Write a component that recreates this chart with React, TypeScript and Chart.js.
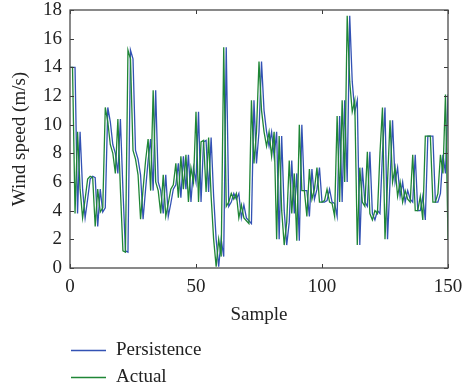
import React, { useEffect, useRef } from "react";
import { Chart, registerables } from "chart.js";

Chart.register(...registerables);

// Measured wind speed (m/s) per sample
const actual: number[] = [
  14.0, 14.0, 3.8, 9.5, 5.5, 3.5, 4.8, 6.2, 6.4, 6.3,
  2.9, 5.5, 3.9, 4.2, 11.2, 10.2, 8.6, 8.0, 6.6, 10.4,
  5.5, 1.2, 1.1, 15.2, 14.6, 8.2, 7.6, 6.5, 3.4, 5.5,
  7.5, 9.0, 5.4, 12.4, 6.0, 5.4, 3.8, 6.5, 3.6, 4.5,
  5.5, 5.8, 7.3, 4.9, 7.8, 5.5, 7.9, 4.6, 7.0, 6.0,
  10.9, 4.6, 8.8, 8.9, 5.3, 9.1, 5.0, 2.0, 0.1, 2.0,
  0.8, 15.4, 4.3, 4.6, 5.2, 4.8, 5.2, 3.5, 4.4, 3.5,
  3.3, 3.1, 11.7, 7.3, 9.5, 14.4, 11.0, 9.5, 8.5, 9.5,
  7.8, 9.5, 2.0, 9.2, 4.0, 1.6, 3.2, 7.5, 3.8, 6.6,
  1.9, 10.0, 5.4, 5.4, 3.6, 6.9, 4.8, 5.5, 7.0, 4.6,
  4.6, 4.7, 5.5, 4.6, 4.5, 3.6, 10.6, 4.6, 11.7, 6.0,
  17.6, 13.0, 10.9, 11.7, 1.6, 7.0, 4.6, 4.3, 8.1, 3.8,
  3.35, 4.0, 3.8, 8.0, 11.2, 2.0, 6.0, 10.3, 6.0, 7.0,
  5.0, 6.0, 4.6, 5.4, 4.8, 4.6, 7.9, 4.0, 4.0, 5.0,
  3.35, 9.2, 9.2, 9.2, 4.6, 4.6, 5.2, 7.9, 6.6, 12.1,
  2.0,
];

// Persistence forecast: previous sample's measured value
const persistence: number[] = [
  14.0, 14.0, 14.0, 3.8, 9.5, 5.5, 3.5, 4.8, 6.2, 6.4,
  6.3, 2.9, 5.5, 3.9, 4.2, 11.2, 10.2, 8.6, 8.0, 6.6,
  10.4, 5.5, 1.2, 1.1, 15.2, 14.6, 8.2, 7.6, 6.5, 3.4,
  5.5, 7.5, 9.0, 5.4, 12.4, 6.0, 5.4, 3.8, 6.5, 3.6,
  4.5, 5.5, 5.8, 7.3, 4.9, 7.8, 5.5, 7.9, 4.6, 7.0,
  6.0, 10.9, 4.6, 8.8, 8.9, 5.3, 9.1, 5.0, 2.0, 0.1,
  2.0, 0.8, 15.4, 4.3, 4.6, 5.2, 4.8, 5.2, 3.5, 4.4,
  3.5, 3.3, 3.1, 11.7, 7.3, 9.5, 14.4, 11.0, 9.5, 8.5,
  9.5, 7.8, 9.5, 2.0, 9.2, 4.0, 1.6, 3.2, 7.5, 3.8,
  6.6, 1.9, 10.0, 5.4, 5.4, 3.6, 6.9, 4.8, 5.5, 7.0,
  4.6, 4.6, 4.7, 5.5, 4.6, 4.5, 3.6, 10.6, 4.6, 11.7,
  6.0, 17.6, 13.0, 10.9, 11.7, 1.6, 7.0, 4.6, 4.3, 8.1,
  3.8, 3.35, 4.0, 3.8, 8.0, 11.2, 2.0, 6.0, 10.3, 6.0,
  7.0, 5.0, 6.0, 4.6, 5.4, 4.8, 4.6, 7.9, 4.0, 4.0,
  5.0, 3.35, 9.2, 9.2, 9.2, 4.6, 4.6, 5.2, 7.9, 6.6,
  12.1,
];

const seriesNames = ["Persistence", "Actual"];
const seriesColors = ["#3352b4", "#1f8636"];
const xTicks = [0, 50, 100, 150];
const yTicks = [0, 2, 4, 6, 8, 10, 12, 14, 16, 18];

const FONT = "'Liberation Serif', 'DejaVu Serif', serif";
const FONT_SIZE = 19;

const toPoints = (vals: number[]) => vals.map((v, i) => ({ x: i, y: v }));

// Box frame with inward tick marks on all four sides, plus a stacked legend
const framePlugin = {
  id: "frameAndLegend",
  afterDatasetsDraw(chart: any) {
    const { ctx, chartArea, scales } = chart;
    const { left, right, top, bottom } = chartArea;
    const xs = scales.x;
    const ys = scales.y;
    ctx.save();
    ctx.strokeStyle = "#3a3a3a";
    ctx.lineWidth = 1;
    ctx.beginPath();
    xTicks.forEach((v) => {
      const px = Math.round(xs.getPixelForValue(v)) + 0.5;
      ctx.moveTo(px, bottom);
      ctx.lineTo(px, bottom - 4);
      ctx.moveTo(px, top);
      ctx.lineTo(px, top + 4);
    });
    yTicks.forEach((v) => {
      const py = Math.round(ys.getPixelForValue(v)) + 0.5;
      ctx.moveTo(left, py);
      ctx.lineTo(left + 4, py);
      ctx.moveTo(right, py);
      ctx.lineTo(right - 4, py);
    });
    ctx.stroke();
    ctx.lineWidth = 1.3;
    ctx.strokeStyle = "#4a4a4a";
    ctx.strokeRect(left, top, right - left, bottom - top);
    ctx.restore();
  },
  afterDraw(chart: any) {
    const { ctx, chartArea } = chart;
    const x0 = chartArea.left + 1;
    const rows = [350, 377];
    ctx.save();
    ctx.font = `${FONT_SIZE}px ${FONT}`;
    ctx.textBaseline = "middle";
    ctx.textAlign = "left";
    seriesNames.forEach((name, i) => {
      const y = rows[i];
      ctx.strokeStyle = seriesColors[i];
      ctx.lineWidth = 1.3;
      ctx.beginPath();
      ctx.moveTo(x0, y + 0.5);
      ctx.lineTo(x0 + 35, y + 0.5);
      ctx.stroke();
      ctx.fillStyle = "#222";
      ctx.fillText(name, x0 + 45, y);
    });
    ctx.restore();
  },
};

export default function App() {
  const canvasRef = useRef<HTMLCanvasElement | null>(null);

  useEffect(() => {
    document.body.style.margin = "0";
    const canvas = canvasRef.current;
    if (!canvas) return;
    const chart = new Chart(canvas, {
      type: "line",
      data: {
        datasets: [
          {
            label: seriesNames[0],
            data: toPoints(persistence),
            borderColor: seriesColors[0],
            backgroundColor: seriesColors[0],
            borderWidth: 1.3,
            pointRadius: 0,
            tension: 0,
            order: 1,
          },
          {
            label: seriesNames[1],
            data: toPoints(actual),
            borderColor: seriesColors[1],
            backgroundColor: seriesColors[1],
            borderWidth: 1.3,
            pointRadius: 0,
            tension: 0,
            order: 0,
          },
        ],
      },
      options: {
        animation: false,
        responsive: false,
        maintainAspectRatio: false,
        layout: { padding: { top: 10, right: 16, bottom: 59, left: 0 } },
        plugins: {
          legend: { display: false },
          tooltip: { enabled: false },
        },
        scales: {
          x: {
            type: "linear",
            min: 0,
            max: 150,
            grid: { display: false, drawTicks: false },
            border: { display: false },
            afterBuildTicks: (s: any) => {
              s.ticks = xTicks.map((v) => ({ value: v }));
            },
            afterFit: (s: any) => {
              s.height = 60;
              s.paddingLeft = 0;
              s.paddingRight = 0;
            },
            ticks: {
              padding: 8,
              color: "#222",
              font: { family: FONT, size: FONT_SIZE },
              maxRotation: 0,
            },
            title: {
              display: true,
              text: "Sample",
              color: "#222",
              font: { family: FONT, size: FONT_SIZE, lineHeight: 1.2 },
              padding: { top: 0, bottom: 2 },
            },
          },
          y: {
            type: "linear",
            min: 0,
            max: 18,
            grid: { display: false, drawTicks: false },
            border: { display: false },
            afterBuildTicks: (s: any) => {
              s.ticks = yTicks.map((v) => ({ value: v }));
            },
            afterFit: (s: any) => {
              s.width = 70;
              s.paddingTop = 0;
              s.paddingBottom = 0;
            },
            ticks: {
              padding: 8,
              color: "#222",
              font: { family: FONT, size: FONT_SIZE },
            },
            title: {
              display: true,
              text: "Wind speed (m/s)",
              color: "#222",
              font: { family: FONT, size: FONT_SIZE, lineHeight: 1.2 },
              padding: { top: 9, bottom: 0 },
            },
          },
        },
      },
      plugins: [framePlugin],
    });
    return () => chart.destroy();
  }, []);

  return (
    <div style={{ position: "absolute", left: 0, top: 0, width: 464, height: 387 }}>
      <canvas ref={canvasRef} width={464} height={387} style={{ width: 464, height: 387, display: "block" }} />
    </div>
  );
}
